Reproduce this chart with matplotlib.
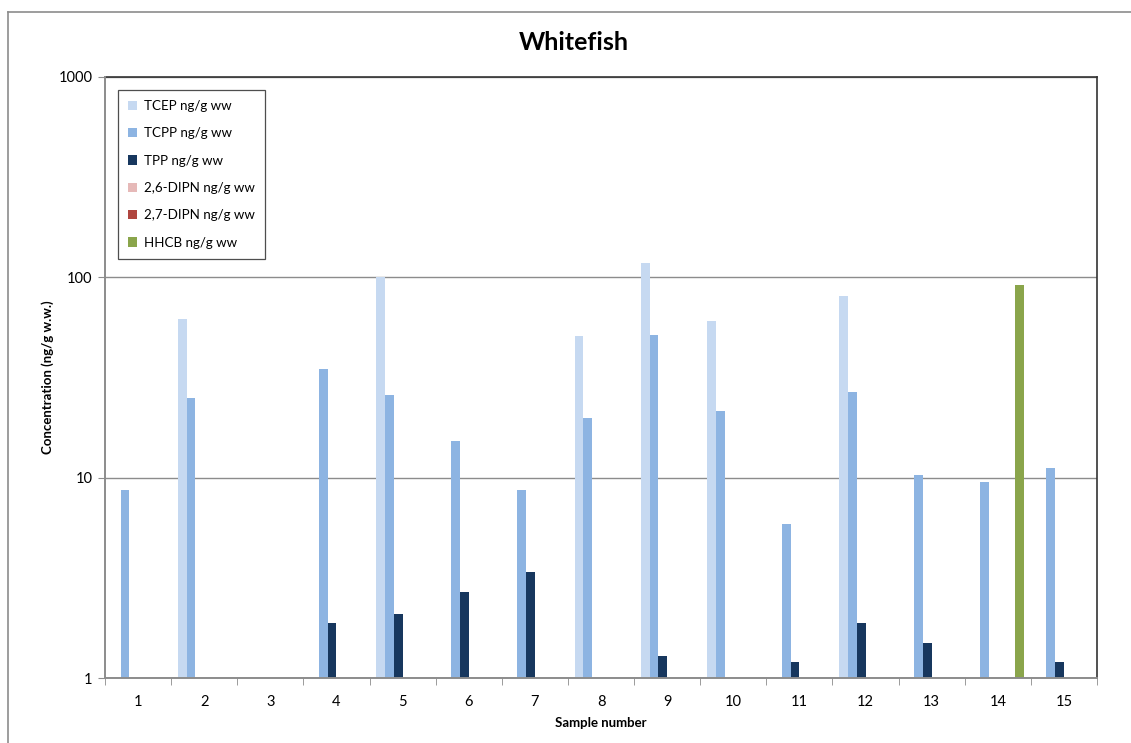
import numpy as np
import matplotlib
matplotlib.use("Agg")
import matplotlib.pyplot as plt
from matplotlib.lines import Line2D

plt.rcParams['font.family'] = ['Lato', 'DejaVu Sans']

samples = [str(i) for i in range(1, 16)]
nan = np.nan
tcep = [nan, 62, nan, nan, 100, nan, nan, 51, 118, 60.6, nan, 80.7, nan, nan, nan]
tcpp = [8.7, 25, nan, 34.9, 25.9, 15.3, 8.7, 19.9, 51.6, 21.5, 5.9, 26.8, 10.3, 9.5, 11.2]
tpp = [nan, nan, nan, 1.88, 2.09, 2.69, 3.38, nan, 1.29, nan, 1.2, 1.88, 1.5, nan, 1.2]
dipn26 = [nan] * 15
dipn27 = [nan] * 15
hhcb = [nan, nan, nan, nan, nan, nan, nan, nan, nan, nan, nan, nan, nan, 91.6, nan]

series = [
    ("TCEP ng/g ww", tcep, "#C6D9F1"),
    ("TCPP ng/g ww", tcpp, "#8DB4E2"),
    ("TPP ng/g ww", tpp, "#17375E"),
    ("2,6-DIPN ng/g ww", dipn26, "#E6B9B8"),
    ("2,7-DIPN ng/g ww", dipn27, "#B0463F"),
    ("HHCB ng/g ww", hhcb, "#8AA54B"),
]

W, H = 1131, 743
fig = plt.figure(figsize=(W / 100, H / 100), dpi=100)
# outer chart border (left and top visible)
fig.add_artist(Line2D([8 / W, 8 / W], [0, 1 - 12 / H], transform=fig.transFigure,
                      color="#8c8c8c", linewidth=1.2))
fig.add_artist(Line2D([8 / W, 1], [1 - 12 / H, 1 - 12 / H], transform=fig.transFigure,
                      color="#8c8c8c", linewidth=1.2))

ax = fig.add_axes([105 / W, 65 / H, 992 / W, 601 / H])

x = np.arange(len(samples))
n = len(series)
w = 0.1325
for i, (name, vals, col) in enumerate(series):
    off = (i - (n - 1) / 2) * w
    ax.bar(x + off, np.array(vals, dtype=float), width=w, color=col,
           label=name, zorder=3)

ax.set_yscale('log')
ax.set_ylim(1, 1000)
ax.set_xlim(-0.5, len(samples) - 0.5)
ax.set_yticks([1, 10, 100, 1000])
ax.set_yticklabels(["1", "10", "100", "1000"])
ax.yaxis.set_minor_locator(matplotlib.ticker.NullLocator())
ax.grid(axis='y', which='major', color="#8c8c8c", linewidth=1, zorder=0)
ax.set_xticks(x)
ax.set_xticklabels(samples)
ax.set_xticks(np.arange(len(samples) + 1) - 0.5, minor=True)
ax.tick_params(axis='x', which='major', length=0, pad=12, labelsize=10.5)
ax.tick_params(axis='x', which='minor', length=5, color="#8c8c8c", direction='out')
ax.tick_params(axis='y', which='major', length=5, color="#8c8c8c", labelsize=10.5, pad=4)
for s in ['top', 'right']:
    ax.spines[s].set_color("#333333")
    ax.spines[s].set_linewidth(1.2)
for s in ['left', 'bottom']:
    ax.spines[s].set_color("#8c8c8c")
    ax.spines[s].set_linewidth(1.4)
    ax.spines[s].set_zorder(4)

ax.set_xlabel("Sample number", fontweight='bold', fontsize=9.5, labelpad=6)
ax.set_ylabel("Concentration (ng/g w.w.)", fontweight='bold', fontsize=9.5, labelpad=3)
fig.text(574 / W, 1 - 42 / H, "Whitefish", ha='center', va='center',
         fontweight='bold', fontsize=18)

leg = ax.legend(loc='upper left', bbox_to_anchor=(13 / 992, 1 - 13 / 601), frameon=True,
                fancybox=False, edgecolor="#222222", fontsize=9.6, handlelength=0.7,
                handleheight=0.7, labelspacing=1.15, borderpad=0.75, handletextpad=0.5,
                borderaxespad=0)
leg.get_frame().set_linewidth(0.9)
leg.set_zorder(5)

fig.savefig("out.png", dpi=100)
